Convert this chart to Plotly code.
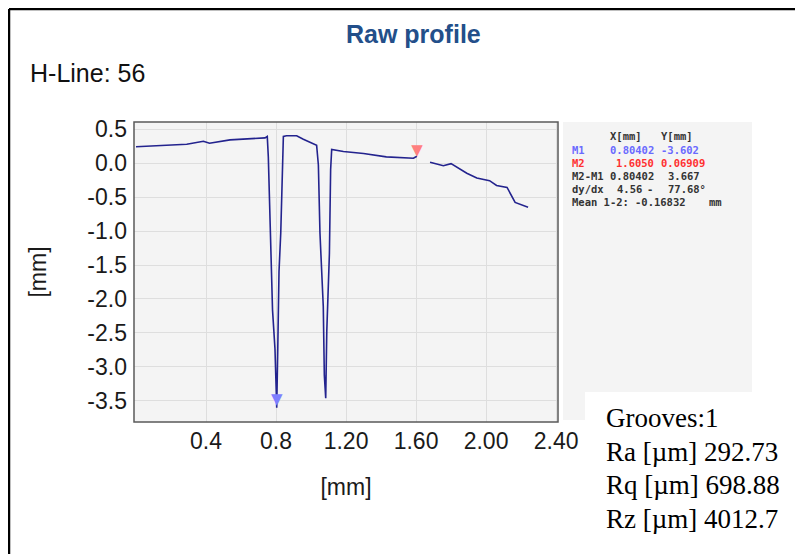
import plotly.graph_objects as go

# ---------------- data ----------------
profile_x = [0.00, 0.29, 0.385, 0.42, 0.537, 0.737, 0.75, 0.756, 0.762, 0.775, 0.78, 0.794, 0.804,
             0.81, 0.817, 0.827, 0.836, 0.842, 0.86, 0.918, 0.956, 1.004, 1.032, 1.042, 1.051,
             1.061, 1.07, 1.076, 1.084, 1.09, 1.099, 1.105, 1.112, 1.118, 1.185, 1.30, 1.43,
             1.547, 1.585, 1.605, None, 1.68, 1.756, 1.80, 1.89, 1.947, 2.02, 2.06, 2.12, 2.166,
             2.19, 2.24]
profile_y = [0.24, 0.275, 0.32, 0.29, 0.34, 0.37, 0.39, 0.09, -0.47, -1.60, -2.16, -2.73, -3.60,
             -2.73, -1.60, -1.03, 0.09, 0.39, 0.40, 0.40, 0.35, 0.30, 0.26, -0.03, -1.03,
             -1.60, -2.11, -3.12, -3.46, -2.48, -1.92, -1.33, -0.10, 0.20, 0.17, 0.14, 0.09,
             0.08, 0.07, 0.10, None, 0.01, -0.04, -0.01, -0.15, -0.22, -0.26, -0.33, -0.36, -0.58,
             -0.60, -0.65]

marker_names = ["M1", "M2"]
marker_x = [0.80402, 1.6050]
marker_y = [-3.602, 0.06909]
marker_colors = ["#7f7fff", "#ff7f7f"]

x_tickvals = [0.4, 0.8, 1.2, 1.6, 2.0, 2.4]
x_ticktext = ["0.4", "0.8", "1.20", "1.60", "2.00", "2.40"]
y_tickvals = [0.5, 0.0, -0.5, -1.0, -1.5, -2.0, -2.5, -3.0, -3.5]
y_ticktext = ["0.5", "0.0", "-0.5", "-1.0", "-1.5", "-2.0", "-2.5", "-3.0", "-3.5"]

# cursor table cells: (text, left px, centre y px, colour) in reference-image pixels
table_cells = [
    ("X[mm]", 608, 136, "#333333"), ("Y[mm]", 659, 136, "#333333"),
    ("M1", 570, 150, "#6a6aff"), ("0.80402", 608, 150, "#6a6aff"), ("-3.602", 659, 150, "#6a6aff"),
    ("M2", 570, 163, "#ff3030"), ("1.6050", 614, 163, "#ff3030"), ("0.06909", 659, 163, "#ff3030"),
    ("M2-M1", 570, 176, "#333333"), ("0.80402", 608, 176, "#333333"), ("3.667", 666, 176, "#333333"),
    ("dy/dx", 570, 189, "#333333"), ("4.56", 615, 189, "#333333"), ("-", 645, 189, "#333333"),
    ("77.68°", 666, 189, "#333333"),
    ("Mean 1-2:", 570, 202, "#333333"), ("-0.16832", 633, 202, "#333333"), ("mm", 707, 202, "#333333"),
]

stats_lines = ["Grooves:1", "Ra [µm] 292.73", "Rq [µm] 698.88", "Rz [µm] 4012.7"]

# ---------------- layout geometry ----------------
# the page body adds an 8 px margin, so the figure is drawn 8 px smaller and
# all reference-image pixel positions are shifted by that amount
OFF = 8
W, H = 803 - OFF, 554 - OFF
L, R, T, B = 134 - OFF, 558 - OFF, 122 - OFF, 422 - OFF


def px(xp):
    return (xp - OFF - L) / (R - L)


def py(yp):
    return (B - (yp - OFF)) / (B - T)


fig = go.Figure()

fig.add_trace(go.Scatter(
    x=profile_x, y=profile_y, mode="lines",
    line=dict(color="#23238e", width=1.6),
    connectgaps=False, showlegend=False, hoverinfo="skip",
))

for name, mx, my, mc in zip(marker_names, marker_x, marker_y, marker_colors):
    fig.add_trace(go.Scatter(
        x=[mx], y=[my], mode="text", text=["▼"], textposition="top center",
        textfont=dict(family="DejaVu Sans", size=15, color=mc),
        name=name, showlegend=False, hoverinfo="name",
    ))

shapes = [
    # grey cursor panel
    dict(type="rect", xref="paper", yref="paper", x0=px(563), x1=px(752), y0=py(420), y1=py(122),
         fillcolor="#f4f4f4", line=dict(width=0), layer="below"),
    # white stats box
    dict(type="rect", xref="paper", yref="paper", x0=px(585), x1=px(815), y0=py(570), y1=py(392),
         fillcolor="white", line=dict(width=0), layer="above"),
    # outer black frame
    dict(type="line", xref="paper", yref="paper", x0=px(9), x1=px(815), y0=py(9), y1=py(9),
         line=dict(color="black", width=2.5)),
    dict(type="line", xref="paper", yref="paper", x0=px(9), x1=px(9), y0=py(9), y1=py(570),
         line=dict(color="black", width=2.5)),
    # plot frame
    dict(type="rect", xref="paper", yref="paper", x0=0, x1=1, y0=0, y1=1,
         line=dict(color="#5a5a5a", width=1.5)),
]

annotations = [
    dict(text="<b>Raw profile</b>", xref="paper", yref="paper", x=px(413), y=py(34),
         showarrow=False, font=dict(family="Liberation Sans", size=25, color="#234f8a"),
         xanchor="center", yanchor="middle"),
    dict(text="H-Line: 56", xref="paper", yref="paper", x=px(28), y=py(73),
         showarrow=False, font=dict(family="Liberation Sans", size=25, color="#111111"),
         xanchor="left", yanchor="middle"),
]

for txt, xl, yc, col in table_cells:
    annotations.append(dict(
        text="<b>" + txt + "</b>", xref="paper", yref="paper", x=px(xl), y=py(yc),
        showarrow=False, xanchor="left", yanchor="middle",
        font=dict(family="DejaVu Sans Mono", size=10.5, color=col)))

for i, line in enumerate(stats_lines):
    annotations.append(dict(
        text=line, xref="paper", yref="paper", x=px(604), y=py(418 + i * 33.5),
        showarrow=False, xanchor="left", yanchor="middle",
        font=dict(family="Liberation Serif", size=27, color="black")))

fig.update_layout(
    width=W, height=H,
    margin=dict(l=L, r=W - R, t=T, b=H - B, pad=0),
    paper_bgcolor="white", plot_bgcolor="#f4f4f4",
    shapes=shapes, annotations=annotations,
    font=dict(family="Liberation Sans", color="#1a1a1a"),
)

fig.update_xaxes(
    range=[-0.0114, 2.411], tickvals=x_tickvals, ticktext=x_ticktext,
    showgrid=True, gridcolor="#dedede", gridwidth=1, zeroline=False,
    tickfont=dict(size=23, family="Liberation Sans", color="#1a1a1a"),
    ticks="", ticklabelstandoff=3,
    title=dict(text="[mm]", font=dict(size=23, family="Liberation Sans", color="#1a1a1a"), standoff=25),
)
fig.update_yaxes(
    range=[-3.809, 0.603], tickvals=y_tickvals, ticktext=y_ticktext,
    showgrid=True, gridcolor="#dedede", gridwidth=1, zeroline=False,
    tickfont=dict(size=23, family="Liberation Sans", color="#1a1a1a"),
    ticks="", ticklabelstandoff=6,
    title=dict(text="[mm]", font=dict(size=23, family="Liberation Sans", color="#1a1a1a"), standoff=34),
)

fig.write_html("out.html")
